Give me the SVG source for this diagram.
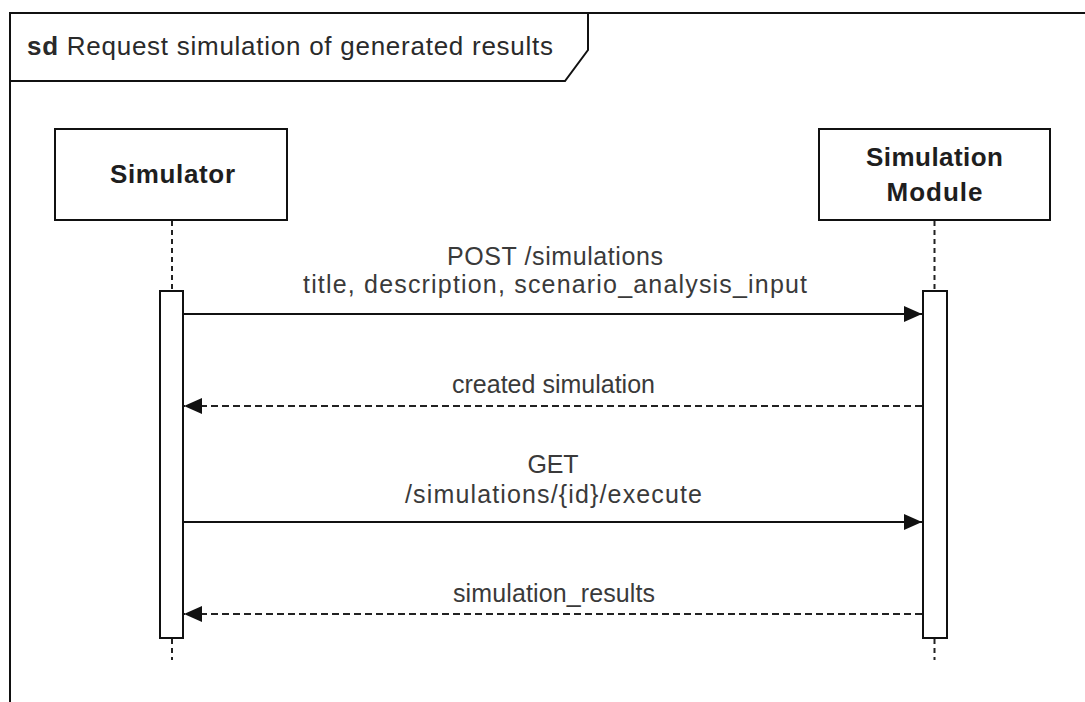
<svg xmlns="http://www.w3.org/2000/svg" width="1085" height="702" viewBox="0 0 1085 702">
  <style>
    .frame { fill: none; stroke: #111; stroke-width: 2; }
    .box { fill: #fff; stroke: #111; stroke-width: 2; }
    .life { fill: none; stroke: #222; stroke-width: 2; stroke-dasharray: 5 4; }
    .msg { fill: none; stroke: #111; stroke-width: 2; }
    .ret { fill: none; stroke: #222; stroke-width: 2; stroke-dasharray: 7 4; }
    .head { font-family: "Liberation Sans", Arial, sans-serif; font-size: 26px; font-weight: bold; fill: #1e1e1e; text-anchor: middle; }
    .lbl { font-family: "Liberation Sans", Arial, sans-serif; font-size: 25px; fill: #3a3a3a; text-anchor: middle; }
    .title { font-family: "Liberation Sans", Arial, sans-serif; font-size: 26px; fill: #2a2a2a; }
  </style>
  <defs>
    <marker id="arrow" viewBox="0 0 18 16" markerWidth="18" markerHeight="16" refX="18" refY="8" orient="auto" markerUnits="userSpaceOnUse">
      <path d="M0,0 L18,8 L0,16 Z" fill="#111"/>
    </marker>
  </defs>
  <rect width="1085" height="702" fill="#fff"/>

  <!-- sequence frame with title tab -->
  <g id="frame">
    <path class="frame" d="M1095,13 L10,13 L10,712"/>
    <path class="frame" d="M10,81 L565,81 L588,50 L588,13"/>
    <text class="title" x="27" y="55" textLength="526" lengthAdjust="spacing"><tspan font-weight="bold">sd</tspan> Request simulation of generated results</text>
  </g>

  <!-- lifeline: Simulator -->
  <g id="simulator">
    <rect class="box" x="55" y="129" width="232" height="91"/>
    <text class="head" x="172.5" y="183" textLength="125" lengthAdjust="spacing">Simulator</text>
    <line class="life" x1="172" y1="221" x2="172" y2="291"/>
    <rect class="box" x="160" y="291" width="23" height="347"/>
    <line class="life" x1="172" y1="639" x2="172" y2="660"/>
  </g>

  <!-- lifeline: Simulation Module -->
  <g id="simulation-module">
    <rect class="box" x="819" y="129" width="231" height="91"/>
    <text class="head" x="934.5" y="166" textLength="137" lengthAdjust="spacing">Simulation</text>
    <text class="head" x="934.5" y="201" textLength="96" lengthAdjust="spacing">Module</text>
    <line class="life" x1="934.5" y1="221" x2="934.5" y2="291"/>
    <rect class="box" x="923" y="291" width="24" height="347"/>
    <line class="life" x1="934.5" y1="639" x2="934.5" y2="660"/>
  </g>

  <!-- messages -->
  <g id="connectors">
    <line class="msg" x1="183" y1="314" x2="922" y2="314" marker-end="url(#arrow)"/>
    <text class="lbl" x="555" y="265" textLength="216" lengthAdjust="spacing">POST /simulations</text>
    <text class="lbl" x="555" y="293" textLength="504" lengthAdjust="spacing">title, description, scenario_analysis_input</text>

    <line class="ret" x1="922" y1="406" x2="184" y2="406" marker-end="url(#arrow)"/>
    <text class="lbl" x="553.5" y="393" textLength="203" lengthAdjust="spacing">created simulation</text>

    <line class="msg" x1="183" y1="522" x2="922" y2="522" marker-end="url(#arrow)"/>
    <text class="lbl" x="553" y="473" textLength="51" lengthAdjust="spacing">GET</text>
    <text class="lbl" x="553.5" y="503" textLength="297" lengthAdjust="spacing">/simulations/{id}/execute</text>

    <line class="ret" x1="922" y1="614" x2="184" y2="614" marker-end="url(#arrow)"/>
    <text class="lbl" x="554" y="602" textLength="202" lengthAdjust="spacing">simulation_results</text>
  </g>
</svg>
